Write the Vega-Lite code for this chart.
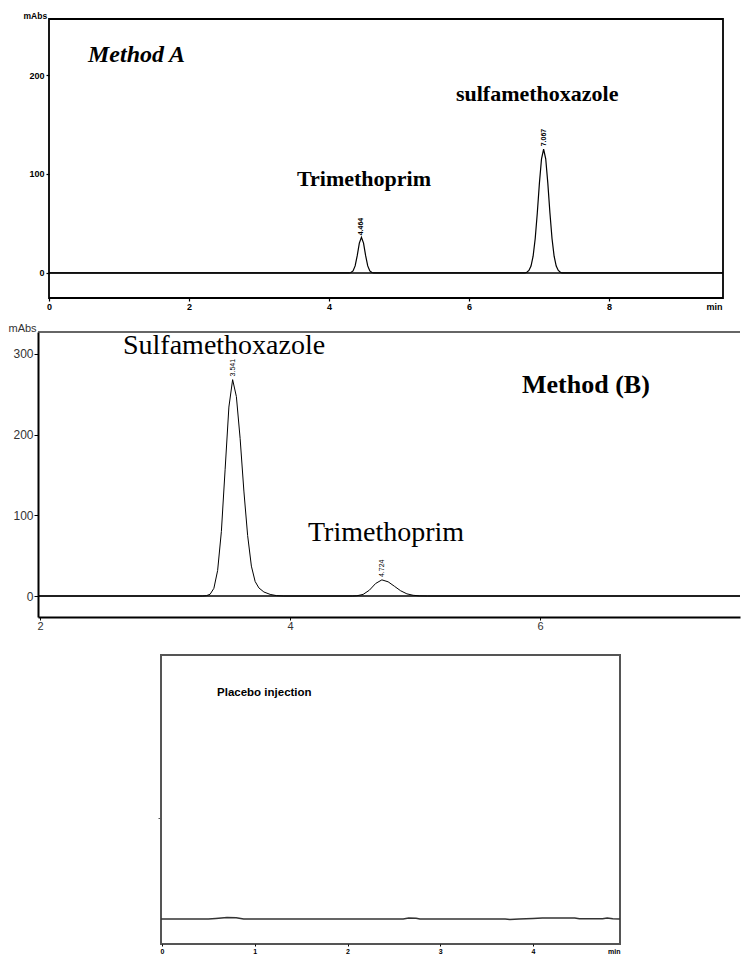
{
  "$schema": "https://vega.github.io/schema/vega-lite/v6.json",
  "background": "white",
  "padding": {"left": 8, "top": 10, "right": 0, "bottom": 0},
  "align": "each",
  "bounds": "full",
  "spacing": 0,
  "config": {
    "view": {"stroke": "black", "strokeWidth": 1.8},
    "axis": {"grid": false, "labelFont": "Liberation Sans", "titleFont": "Liberation Sans", "labelColor": "black", "tickColor": "black", "labelFlush": false, "labelOverlap": false, "format": "d"}
  },
  "datasets": {
    "curveA": [
      {"t": 0, "y": 0}, {"t": 4.29, "y": 0}, {"t": 4.314, "y": 0.4}, {"t": 4.344, "y": 2.0}, {"t": 4.374, "y": 7.1},
      {"t": 4.404, "y": 17.5}, {"t": 4.434, "y": 30.1}, {"t": 4.464, "y": 36}, {"t": 4.494, "y": 30.1}, {"t": 4.524, "y": 17.5},
      {"t": 4.554, "y": 7.1}, {"t": 4.584, "y": 2.0}, {"t": 4.614, "y": 0.4}, {"t": 4.64, "y": 0},
      {"t": 6.8, "y": 0}, {"t": 6.827, "y": 0.7}, {"t": 6.857, "y": 2.5}, {"t": 6.887, "y": 7.0}, {"t": 6.917, "y": 16.9},
      {"t": 6.947, "y": 34.8}, {"t": 6.977, "y": 60.8}, {"t": 7.007, "y": 90.8}, {"t": 7.037, "y": 115.4}, {"t": 7.067, "y": 125},
      {"t": 7.097, "y": 115.4}, {"t": 7.127, "y": 90.8}, {"t": 7.157, "y": 60.8}, {"t": 7.187, "y": 34.8}, {"t": 7.217, "y": 16.9},
      {"t": 7.247, "y": 7.0}, {"t": 7.277, "y": 2.5}, {"t": 7.307, "y": 0.7}, {"t": 7.33, "y": 0}, {"t": 9.63, "y": 0}
    ],
    "curveB": [
      {"t": 1.984, "y": 0}, {"t": 3.3, "y": 0}, {"t": 3.331, "y": 0.4}, {"t": 3.361, "y": 2.2}, {"t": 3.391, "y": 9.5},
      {"t": 3.421, "y": 31.6}, {"t": 3.451, "y": 80}, {"t": 3.481, "y": 157}, {"t": 3.511, "y": 234}, {"t": 3.541, "y": 268},
      {"t": 3.571, "y": 247}, {"t": 3.601, "y": 195}, {"t": 3.631, "y": 130}, {"t": 3.661, "y": 75}, {"t": 3.691, "y": 37},
      {"t": 3.721, "y": 18}, {"t": 3.751, "y": 10}, {"t": 3.791, "y": 5}, {"t": 3.841, "y": 2}, {"t": 3.891, "y": 0.5},
      {"t": 3.95, "y": 0}, {"t": 4.5, "y": 0}, {"t": 4.535, "y": 0.3}, {"t": 4.585, "y": 2}, {"t": 4.635, "y": 7.2},
      {"t": 4.685, "y": 15.5}, {"t": 4.735, "y": 20}, {"t": 4.785, "y": 17.6}, {"t": 4.835, "y": 12.1}, {"t": 4.885, "y": 6.5},
      {"t": 4.935, "y": 2.7}, {"t": 4.985, "y": 0.9}, {"t": 5.035, "y": 0.2}, {"t": 5.1, "y": 0}, {"t": 7.6, "y": 0}
    ],
    "curveP": [
      {"t": -0.011, "y": 0}, {"t": 0.5, "y": 0}, {"t": 0.58, "y": 0.6}, {"t": 0.7, "y": 1.5}, {"t": 0.8, "y": 1.3},
      {"t": 0.88, "y": 0}, {"t": 2.6, "y": 0}, {"t": 2.66, "y": 1}, {"t": 2.74, "y": 0.8}, {"t": 2.78, "y": 0},
      {"t": 3.7, "y": 0}, {"t": 3.75, "y": -0.5}, {"t": 3.85, "y": 0}, {"t": 4.0, "y": 0.5}, {"t": 4.1, "y": 1},
      {"t": 4.45, "y": 1}, {"t": 4.5, "y": 0.3}, {"t": 4.75, "y": 0.3}, {"t": 4.8, "y": 1}, {"t": 4.86, "y": 0.2}, {"t": 4.938, "y": 0}
    ],
    "labelsA": [
      {"t": 0.557, "y": 213, "text": "Method A", "kind": "method"},
      {"t": 3.543, "y": 87.9, "text": "Trimethoprim", "kind": "compound"},
      {"t": 5.814, "y": 173.7, "text": "sulfamethoxazole", "kind": "compound"},
      {"t": 4.464, "y": 38, "text": "4.464", "kind": "rt"},
      {"t": 7.067, "y": 128, "text": "7.067", "kind": "rt"}
    ],
    "labelsB": [
      {"t": 2.664, "y": 300, "text": "Sulfamethoxazole", "kind": "compound"},
      {"t": 5.856, "y": 251.5, "text": "Method (B)", "kind": "method"},
      {"t": 4.144, "y": 68, "text": "Trimethoprim", "kind": "compound"},
      {"t": 3.541, "y": 272, "text": "3.541", "kind": "rt"},
      {"t": 4.735, "y": 23.5, "text": "4.724", "kind": "rt"}
    ],
    "labelsP": [
      {"t": 0.593, "y": 223, "text": "Placebo injection"}
    ]
  },
  "vconcat": [
    {
      "bounds": "flush", "spacing": 0,
      "hconcat": [
        {"width": 12, "height": 303, "data": {"values": []}, "mark": "point", "view": {"stroke": null}},
        {
          "width": 674, "height": 279,
          "view": {"stroke": "black", "strokeWidth": 1.8},
          "layer": [
            {
              "data": {"name": "curveA"},
              "mark": {"type": "line", "color": "black", "strokeWidth": 1.2},
              "encoding": {
                "x": {"field": "t", "type": "quantitative", "scale": {"domain": [0, 9.63], "nice": false, "zero": false},
                  "axis": {"title": null, "values": [0, 2, 4, 6, 8, 9.5], "labelExpr": "datum.value > 9 ? 'min' : datum.label", "domain": false,
                    "tickSize": 3, "tickWidth": 1.2, "labelFontSize": 9, "labelFontWeight": "bold", "labelPadding": 1,
                    "tickOpacity": {"condition": {"test": "datum.value > 9", "value": 0}, "value": 1}}},
                "y": {"field": "y", "type": "quantitative", "scale": {"domain": [-25.3, 256.6], "nice": false, "zero": false},
                  "axis": {"title": "mAbs", "titleAngle": 0, "titleX": -26, "titleY": -1, "titleAlign": "left", "titleBaseline": "alphabetic",
                    "titleFontSize": 8.5, "titleFontWeight": "bold", "titleColor": "black", "values": [0, 100, 200], "domain": false,
                    "tickSize": 3, "tickWidth": 1.2, "labelFontSize": 9, "labelFontWeight": "bold", "labelPadding": 2}}
              }
            },
            {
              "data": {"values": [{}]},
              "mark": {"type": "rule", "color": "black", "strokeWidth": 1.6},
              "encoding": {"y": {"datum": 0, "type": "quantitative"}}
            },
            {
              "data": {"name": "labelsA"},
              "transform": [{"filter": "datum.kind === 'method'"}],
              "mark": {"type": "text", "font": "Liberation Serif", "fontSize": 24, "fontStyle": "italic", "fontWeight": "bold", "align": "left", "baseline": "alphabetic", "color": "black"},
              "encoding": {"x": {"field": "t", "type": "quantitative"}, "y": {"field": "y", "type": "quantitative"}, "text": {"field": "text"}}
            },
            {
              "data": {"name": "labelsA"},
              "transform": [{"filter": "datum.kind === 'compound'"}],
              "mark": {"type": "text", "font": "Liberation Serif", "fontSize": 22, "fontWeight": "bold", "align": "left", "baseline": "alphabetic", "color": "black"},
              "encoding": {"x": {"field": "t", "type": "quantitative"}, "y": {"field": "y", "type": "quantitative"}, "text": {"field": "text"}}
            },
            {
              "data": {"name": "labelsA"},
              "transform": [{"filter": "datum.kind === 'rt'"}],
              "mark": {"type": "text", "font": "Liberation Sans", "fontSize": 7, "fontWeight": "bold", "angle": 270, "align": "left", "baseline": "middle", "color": "black"},
              "encoding": {"x": {"field": "t", "type": "quantitative"}, "y": {"field": "y", "type": "quantitative"}, "text": {"field": "text"}}
            }
          ]
        }
      ]
    },
    {
      "bounds": "flush", "spacing": 0,
      "hconcat": [
        {"width": 1, "height": 322, "data": {"values": []}, "mark": "point", "view": {"stroke": null}},
        {
          "width": 702, "height": 285,
          "view": {"stroke": null},
          "layer": [
            {
              "data": {"name": "curveB"},
              "mark": {"type": "line", "color": "black", "strokeWidth": 1},
              "encoding": {
                "x": {"field": "t", "type": "quantitative", "scale": {"domain": [1.984, 7.6], "nice": false, "zero": false},
                  "axis": {"title": null, "values": [2, 4, 6], "domain": true, "domainColor": "black", "domainWidth": 2,
                    "tickSize": 3, "labelFontSize": 11, "labelPadding": 0, "labelColor": "#333"}},
                "y": {"field": "y", "type": "quantitative", "scale": {"domain": [-26, 327], "nice": false, "zero": false},
                  "axis": {"title": "mAbs", "titleAngle": 0, "titleX": -30, "titleY": -1, "titleAlign": "left", "titleBaseline": "alphabetic",
                    "titleFontSize": 11, "titleFontWeight": "normal", "titleColor": "#333", "values": [0, 100, 200, 300], "domain": true, "domainColor": "black", "domainWidth": 2,
                    "tickSize": 4, "labelFontSize": 12, "labelPadding": 1, "labelColor": "#333"}}
              }
            },
            {
              "data": {"values": [{}]},
              "mark": {"type": "rule", "color": "black", "strokeWidth": 1.6},
              "encoding": {"y": {"datum": 0, "type": "quantitative"}}
            },
            {
              "data": {"values": [{}]},
              "mark": {"type": "rule", "color": "#333", "strokeWidth": 1.6},
              "encoding": {"y": {"datum": 327, "type": "quantitative"}}
            },
            {
              "data": {"name": "labelsB"},
              "transform": [{"filter": "datum.kind === 'compound'"}],
              "mark": {"type": "text", "font": "Liberation Serif", "fontSize": 28, "align": "left", "baseline": "alphabetic", "color": "black"},
              "encoding": {"x": {"field": "t", "type": "quantitative"}, "y": {"field": "y", "type": "quantitative"}, "text": {"field": "text"}}
            },
            {
              "data": {"name": "labelsB"},
              "transform": [{"filter": "datum.kind === 'method'"}],
              "mark": {"type": "text", "font": "Liberation Serif", "fontSize": 26, "fontWeight": "bold", "align": "left", "baseline": "alphabetic", "color": "black"},
              "encoding": {"x": {"field": "t", "type": "quantitative"}, "y": {"field": "y", "type": "quantitative"}, "text": {"field": "text"}}
            },
            {
              "data": {"name": "labelsB"},
              "transform": [{"filter": "datum.kind === 'rt'"}],
              "mark": {"type": "text", "font": "Liberation Sans", "fontSize": 7, "angle": 270, "align": "left", "baseline": "middle", "color": "black"},
              "encoding": {"x": {"field": "t", "type": "quantitative"}, "y": {"field": "y", "type": "quantitative"}, "text": {"field": "text"}}
            }
          ]
        }
      ]
    },
    {
      "bounds": "flush", "spacing": 0,
      "hconcat": [
        {"width": 124, "height": 1, "data": {"values": []}, "mark": "point", "view": {"stroke": null}},
        {
          "width": 459, "height": 289,
          "view": {"stroke": "#555", "strokeWidth": 2},
          "layer": [
            {
              "data": {"name": "curveP"},
              "mark": {"type": "line", "color": "#333", "strokeWidth": 1.5},
              "encoding": {
                "x": {"field": "t", "type": "quantitative", "scale": {"domain": [-0.011, 4.938], "nice": false, "zero": false},
                  "axis": {"title": null, "values": [0, 1, 2, 3, 4, 4.87], "labelExpr": "datum.value > 4.5 ? 'min' : datum.label", "domain": false,
                    "tickSize": 2, "labelFontSize": 7, "labelFontWeight": "bold", "labelPadding": 1, "labelColor": "black",
                    "tickOpacity": {"condition": {"test": "datum.value > 4.5", "value": 0}, "value": 1}}},
                "y": {"field": "y", "type": "quantitative", "scale": {"domain": [-25, 264], "nice": false, "zero": false},
                  "axis": {"title": null, "values": [101], "labels": false, "domain": false, "tickSize": 3, "tickColor": "#555"}}
              }
            },
            {
              "data": {"name": "labelsP"},
              "mark": {"type": "text", "font": "Liberation Sans", "fontSize": 11.5, "fontWeight": "bold", "align": "left", "baseline": "alphabetic", "color": "black"},
              "encoding": {"x": {"field": "t", "type": "quantitative"}, "y": {"field": "y", "type": "quantitative"}, "text": {"field": "text"}}
            }
          ]
        }
      ]
    }
  ]
}
